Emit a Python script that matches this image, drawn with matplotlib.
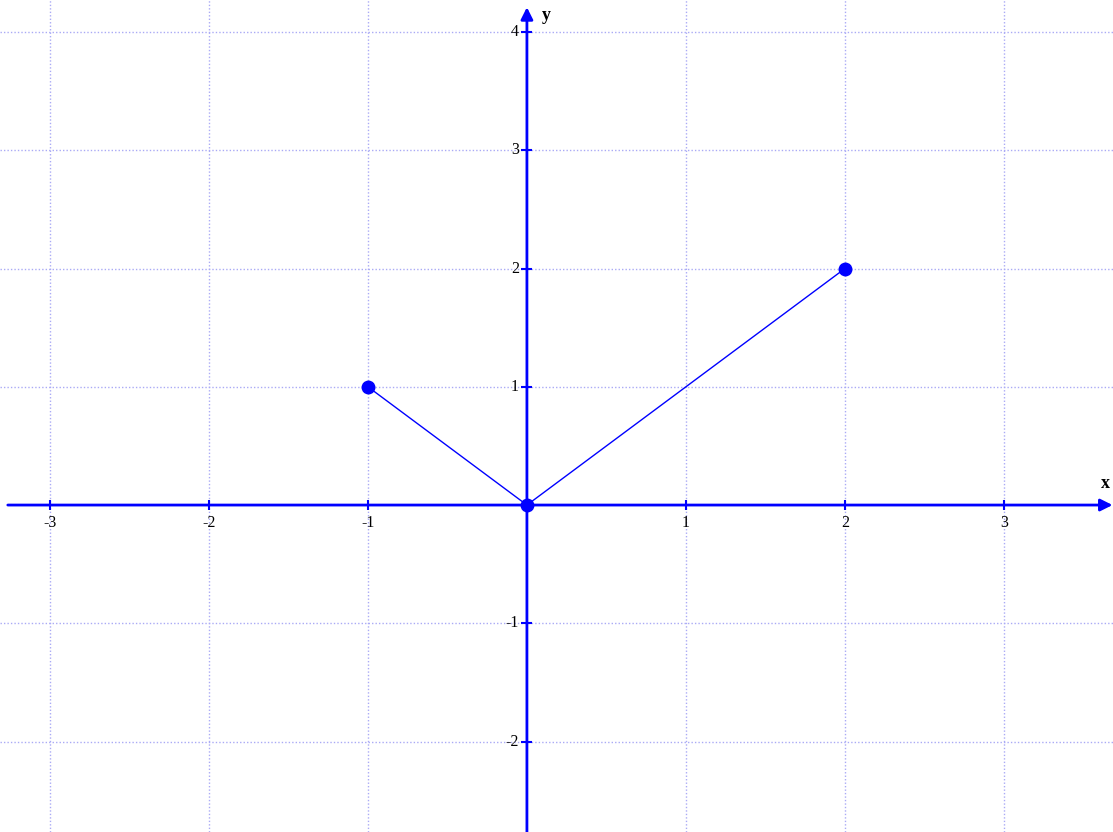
import matplotlib.pyplot as plt
import numpy as np

x_pts = [-1, 0, 2]
y_pts = [1, 0, 2]
x_ticks = [-3, -2, -1, 1, 2, 3]
y_ticks = [-2, -1, 1, 2, 3, 4]

fig = plt.figure(figsize=(11.13, 8.32), dpi=100)
ax = fig.add_axes([0, 0, 1, 1])
ax.set_xlim(-3.314, 3.686)
ax.set_ylim(-2.765, 4.271)
ax.axis('off')

# dotted grid
for xv in x_ticks:
    ax.axvline(xv, color='#aaaaf5', lw=1, ls=(0, (1, 1.5)), zorder=0)
for yv in y_ticks:
    ax.axhline(yv, color='#aaaaf5', lw=1, ls=(0, (1, 1.5)), zorder=0)

# axes with arrows
ax.annotate('', xy=(3.683, 0), xytext=(-3.265, 0),
            arrowprops=dict(arrowstyle='-|>', color='blue', lw=2, mutation_scale=18,
                            shrinkA=0, shrinkB=0), zorder=2)
ax.annotate('', xy=(0, 4.21), xytext=(0, -2.765),
            arrowprops=dict(arrowstyle='-|>', color='blue', lw=2, mutation_scale=18,
                            shrinkA=0, shrinkB=0), zorder=2)

# tick marks
ax.vlines(x_ticks, -0.045, 0.045, color='blue', lw=1.5, zorder=2)
ax.hlines(y_ticks, -0.035, 0.035, color='blue', lw=1.5, zorder=2)

font = dict(family='Liberation Serif', fontsize=11.5)
for xv in x_ticks:
    ax.text(xv, -0.08, str(xv), ha='center', va='top', **font)
for yv in y_ticks:
    ax.text(-0.05, yv, str(yv), ha='right', va='center', **font)

ax.text(3.64, 0.11, 'x', ha='center', va='bottom', family='Liberation Serif',
        fontsize=13, fontweight='bold')
ax.text(0.125, 4.14, 'y', ha='center', va='center', family='Liberation Serif',
        fontsize=13, fontweight='bold')

# data
ax.plot(x_pts, y_pts, color='blue', lw=1, zorder=3)
ax.plot(x_pts, y_pts, 'o', color='blue', markersize=9, zorder=4)

fig.savefig('out.png', dpi=100)
